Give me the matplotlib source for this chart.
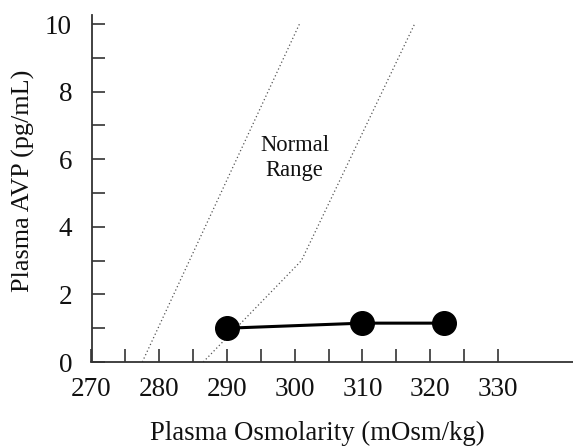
import matplotlib
matplotlib.use("Agg")
import matplotlib.pyplot as plt
from matplotlib.ticker import FixedLocator

# data
osm = [290, 310, 322]
avp = [1.0, 1.15, 1.15]
lower_x = [277.5, 300.7]
lower_y = [0, 10]
upper_x = [286.5, 301, 317.7]
upper_y = [0, 3, 10]
xticks = [270, 280, 290, 300, 310, 320, 330]
yticks = [0, 2, 4, 6, 8, 10]

plt.rcParams['font.family'] = ['Liberation Serif', 'DejaVu Serif']

fig = plt.figure(figsize=(5.73, 4.46), dpi=100)
ax = fig.add_axes([91.5/573, 84/446, 481.5/573, 347/446])

axis_col = '#333333'
ax.plot(lower_x, lower_y, linestyle=(0, (1, 2)), color='#555555', lw=0.9)
ax.plot(upper_x, upper_y, linestyle=(0, (1, 2)), color='#555555', lw=0.9)
ax.plot(osm, avp, color='black', lw=2.2, marker='o', markersize=17,
        markerfacecolor='black', markeredgecolor='black', zorder=5, clip_on=False)

ax.text(300, 6.03, 'Normal\nRange', ha='center', va='center', fontsize=16.3,
        linespacing=1.25, color='#111111')

ax.set_xlim(270, 341.1)
ax.set_ylim(0, 10.27)
ax.spines['top'].set_visible(False)
ax.spines['right'].set_visible(False)
for s in ['left', 'bottom']:
    ax.spines[s].set_color(axis_col)
    ax.spines[s].set_linewidth(1.3)

ax.xaxis.set_major_locator(FixedLocator(xticks))
ax.xaxis.set_minor_locator(FixedLocator([275, 285, 295, 305, 315, 325]))
ax.yaxis.set_major_locator(FixedLocator(yticks))
ax.yaxis.set_minor_locator(FixedLocator([1, 3, 5, 7, 9]))
ax.set_xticklabels([str(t) for t in xticks])
ax.set_yticklabels([str(t) for t in yticks])

ax.tick_params(axis='both', which='both', direction='in', length=9.5, width=1.2,
               color=axis_col, labelsize=19.5, labelcolor='#111111')
ax.tick_params(axis='x', which='both', pad=11)
ax.tick_params(axis='y', which='both', pad=14)

ax.set_xlabel('Plasma Osmolarity (mOsm/kg)', fontsize=19.3, color='#111111')
ax.set_ylabel('Plasma AVP (pg/mL)', fontsize=18.8, color='#111111')
ax.xaxis.set_label_coords(0.468, -0.17)
ax.yaxis.set_label_coords(-0.118, 0.523)

fig.savefig('out.png', dpi=100)
